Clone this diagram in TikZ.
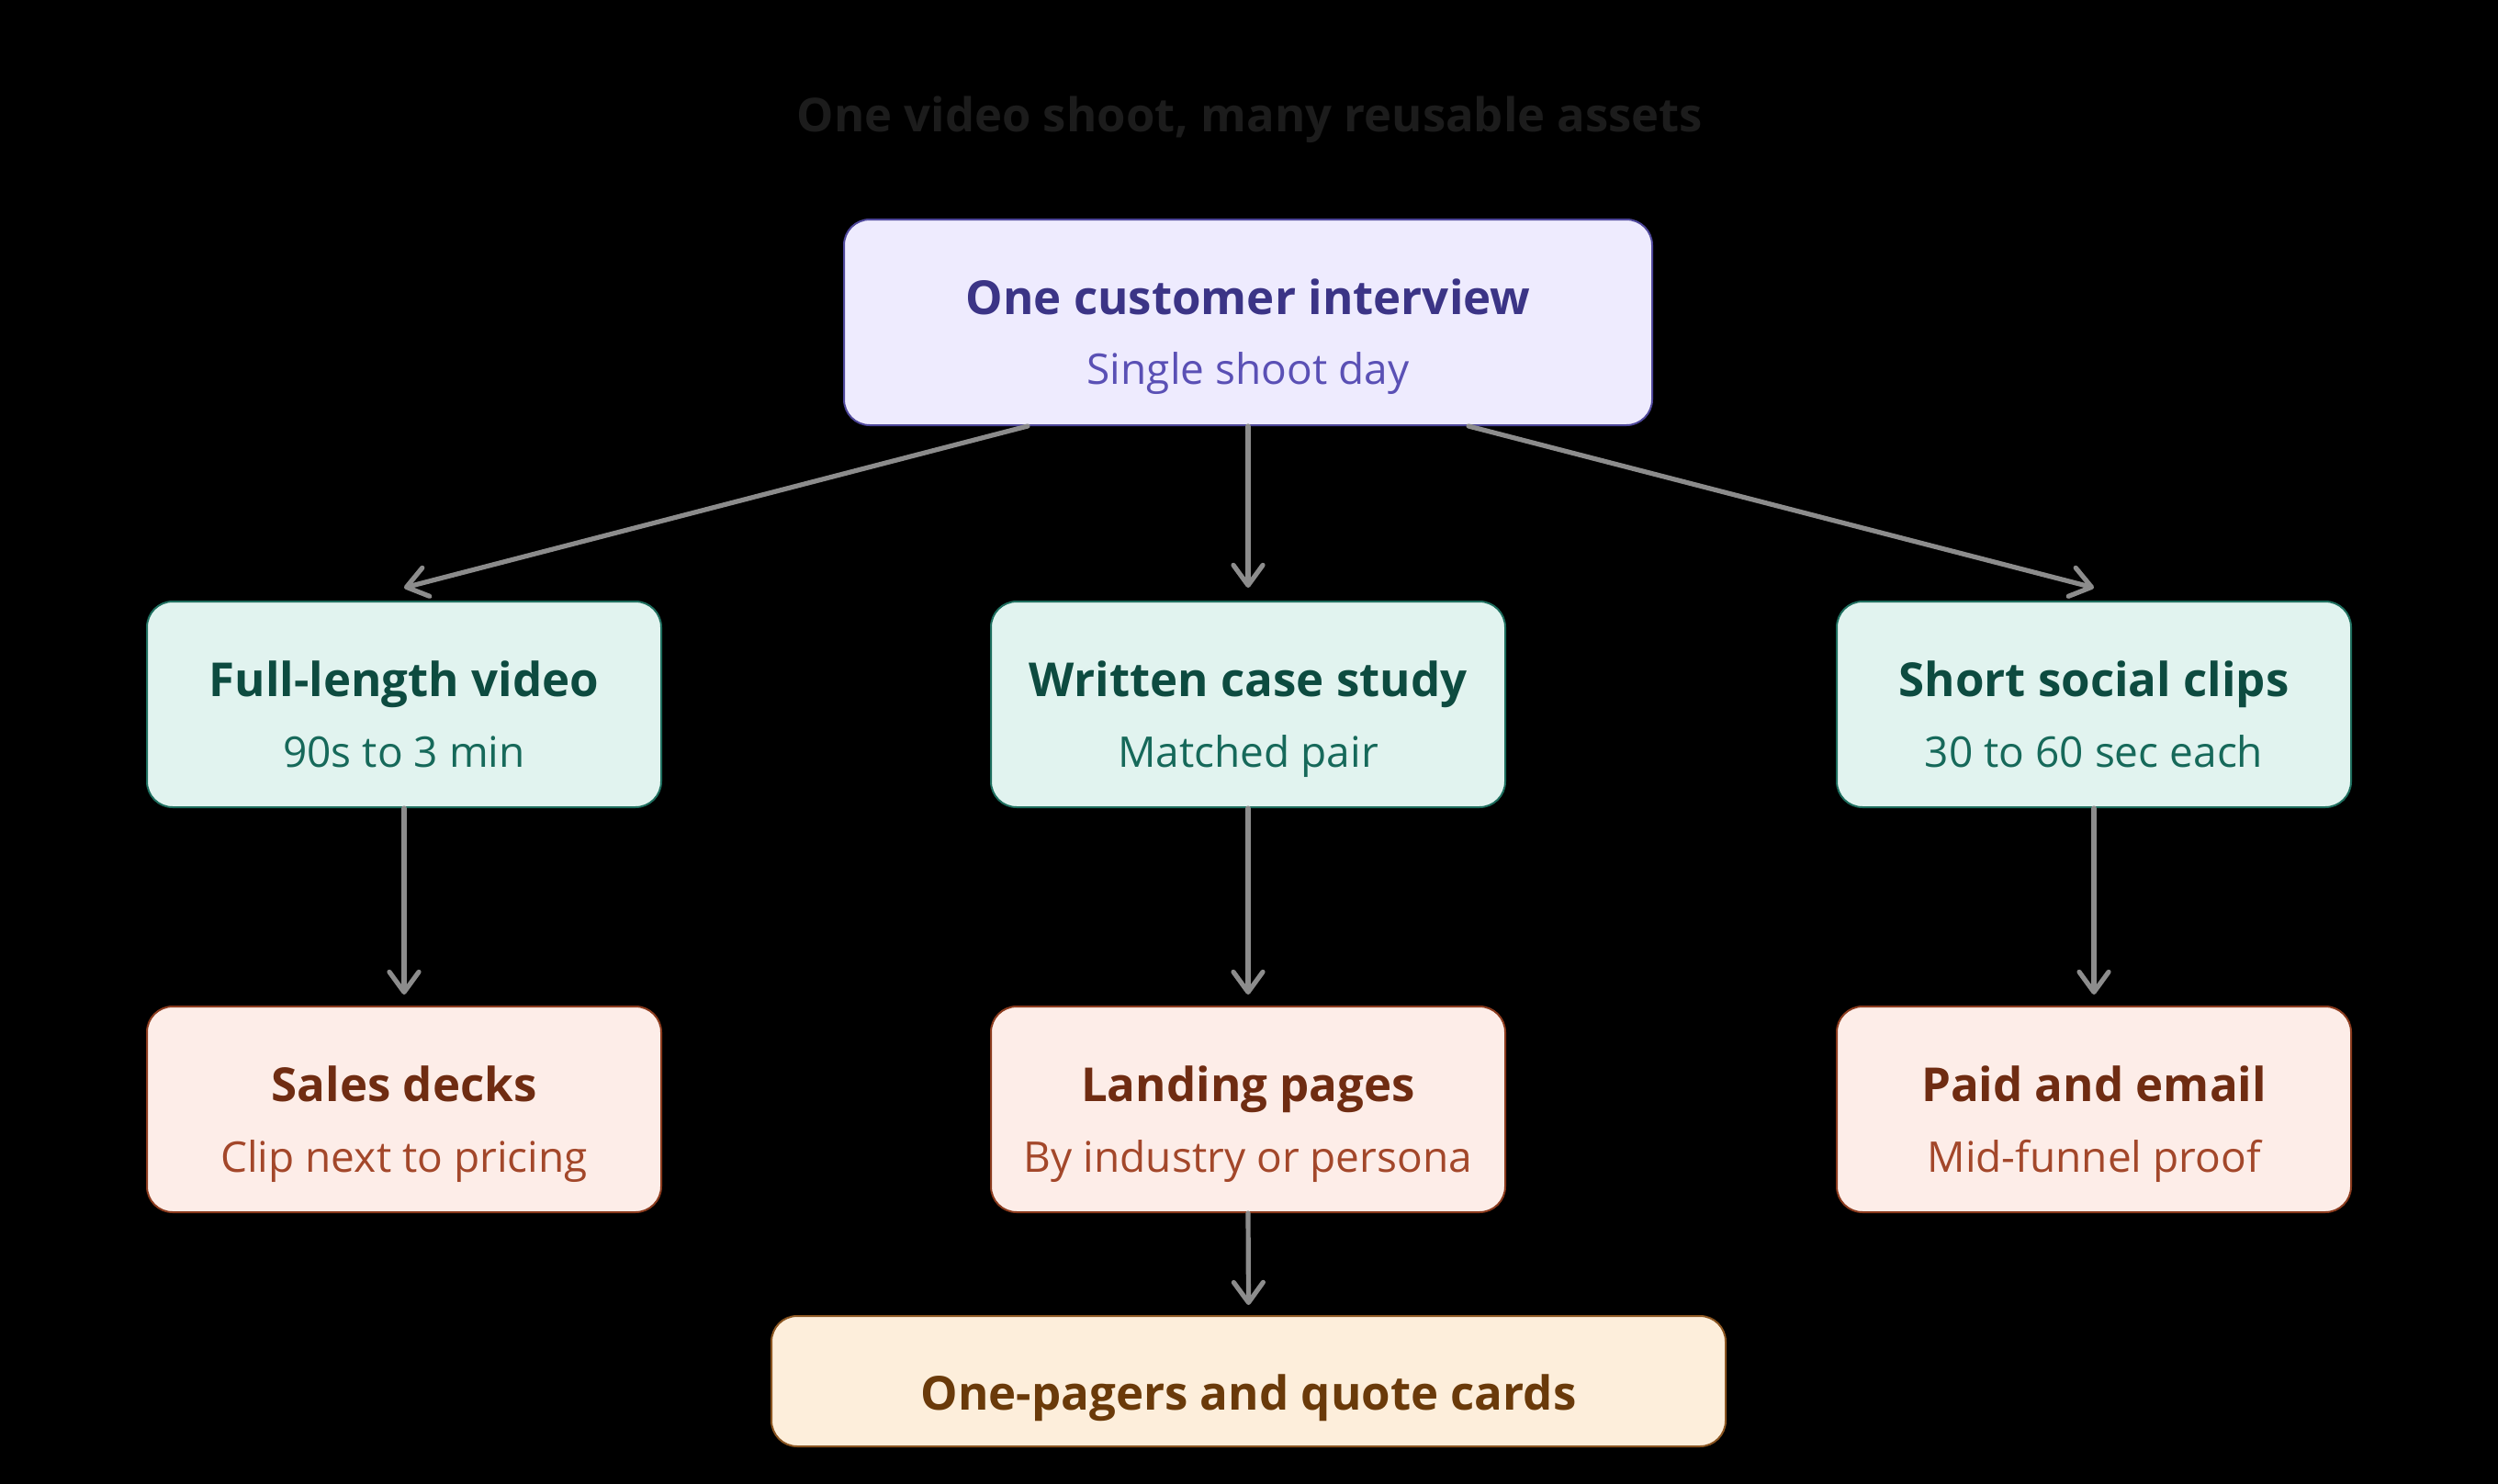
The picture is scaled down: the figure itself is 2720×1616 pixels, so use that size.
\documentclass[tikz,border=0pt]{standalone}
\usepackage{fontspec}
\setmainfont{Open Sans}
\usetikzlibrary{arrows.meta,calc}
\definecolor{bgc}{HTML}{000000}
\definecolor{titlec}{HTML}{1C1C1C}
\definecolor{arrc}{HTML}{8C8C8C}
\definecolor{pfill}{HTML}{EEEBFE}\definecolor{pdraw}{HTML}{4E479A}\definecolor{ptext}{HTML}{3B3486}\definecolor{psub}{HTML}{5A50B5}
\definecolor{gfill}{HTML}{E1F3EF}\definecolor{gdraw}{HTML}{1E6E5E}\definecolor{gtext}{HTML}{0D4B40}\definecolor{gsub}{HTML}{16695A}
\definecolor{rfill}{HTML}{FDEDE8}\definecolor{rdraw}{HTML}{8B3B1E}\definecolor{rtext}{HTML}{6F2C12}\definecolor{rsub}{HTML}{A3472A}
\definecolor{ofill}{HTML}{FDEEDB}\definecolor{odraw}{HTML}{8A5521}\definecolor{otext}{HTML}{6A3A0A}
\tikzset{
  box/.style={rectangle, rounded corners=14pt, line width=1pt, inner sep=0pt},
  pbox/.style={box, fill=pfill, draw=pdraw, minimum width=440pt, minimum height=112pt},
  gbox/.style={box, fill=gfill, draw=gdraw, minimum width=280pt, minimum height=112pt},
  rbox/.style={box, fill=rfill, draw=rdraw, minimum width=280pt, minimum height=112pt},
  obox/.style={box, fill=ofill, draw=odraw, minimum width=519.5pt, minimum height=71pt},
  head/.style={anchor=base, inner sep=0pt, font=\fontsize{25.5}{30}\selectfont\bfseries},
  sub/.style={anchor=base, inner sep=0pt, font=\fontsize{23}{27}\selectfont},
  arr/.style={draw=arrc, line width=2.6pt, line cap=round, -{Straight Barb[length=11pt,width=16pt,line cap=round,line join=round]}}
}
\begin{document}
\begin{tikzpicture}[x=0.5pt,y=-0.5pt]
\fill[bgc] (0,0) rectangle (2720,1616);
\useasboundingbox (0,0) rectangle (2720,1616);
\node[text=titlec, anchor=base, inner sep=0pt, font=\fontsize{25.4}{30}\selectfont\bfseries] (title) at (1361,144) {One video shoot, many reusable assets};
% boxes
\node[pbox] (top) at (1359,351) {};
\node[gbox] (m1) at (440,767) {};
\node[gbox] (m2) at (1359,767) {};
\node[gbox] (m3) at (2280,767) {};
\node[rbox] (b1) at (440,1208) {};
\node[rbox] (b2) at (1359,1208) {};
\node[rbox] (b3) at (2280,1208) {};
\node[obox] (fin) at (1359.5,1504) {};
% texts
\node[head, text=ptext] (topT) at ($(top.center)+(0,-9)$) {One customer interview};
\node[sub, text=psub] (topS) at ($(top.center)+(0,67)$) {Single shoot day};
\node[head, text=gtext] (m1T) at ($(m1.center)+(0,-9)$) {Full-length video};
\node[sub, text=gsub] (m1S) at ($(m1.center)+(0,68)$) {90s to 3 min};
\node[head, text=gtext] (m2T) at ($(m2.center)+(0,-9)$) {Written case study};
\node[sub, text=gsub] (m2S) at ($(m2.center)+(0,68)$) {Matched pair};
\node[head, text=gtext] (m3T) at ($(m3.center)+(0,-9)$) {Short social clips};
\node[sub, text=gsub] (m3S) at ($(m3.center)+(0,68)$) {30 to 60 sec each};
\node[head, text=rtext] (b1T) at ($(b1.center)+(0,-9)$) {Sales decks};
\node[sub, text=rsub] (b1S) at ($(b1.center)+(0,68)$) {Clip next to pricing};
\node[head, text=rtext] (b2T) at ($(b2.center)+(0,-9)$) {Landing pages};
\node[sub, text=rsub] (b2S) at ($(b2.center)+(0,68)$) {By industry or persona};
\node[head, text=rtext] (b3T) at ($(b3.center)+(0,-9)$) {Paid and email};
\node[sub, text=rsub] (b3S) at ($(b3.center)+(0,68)$) {Mid-funnel proof};
\node[head, text=otext] (finT) at ($(fin.center)+(0,31)$) {One-pagers and quote cards};
% connectors
\draw[arr] ($(top.south)+(-240,0)$) -- ($(m1.north)+(0,-14)$);
\draw[arr] (top.south) -- ($(m2.north)+(0,-14)$);
\draw[arr] ($(top.south)+(240,0)$) -- ($(m3.north)+(0,-14)$);
\draw[arr] (m1.south) -- ($(b1.north)+(0,-12)$);
\draw[arr] (m2.south) -- ($(b2.north)+(0,-12)$);
\draw[arr] (m3.south) -- ($(b3.north)+(0,-12)$);
\draw[arr] (b2.south) -- ($(fin.north)+(0,-11)$);
\end{tikzpicture}
\end{document}
